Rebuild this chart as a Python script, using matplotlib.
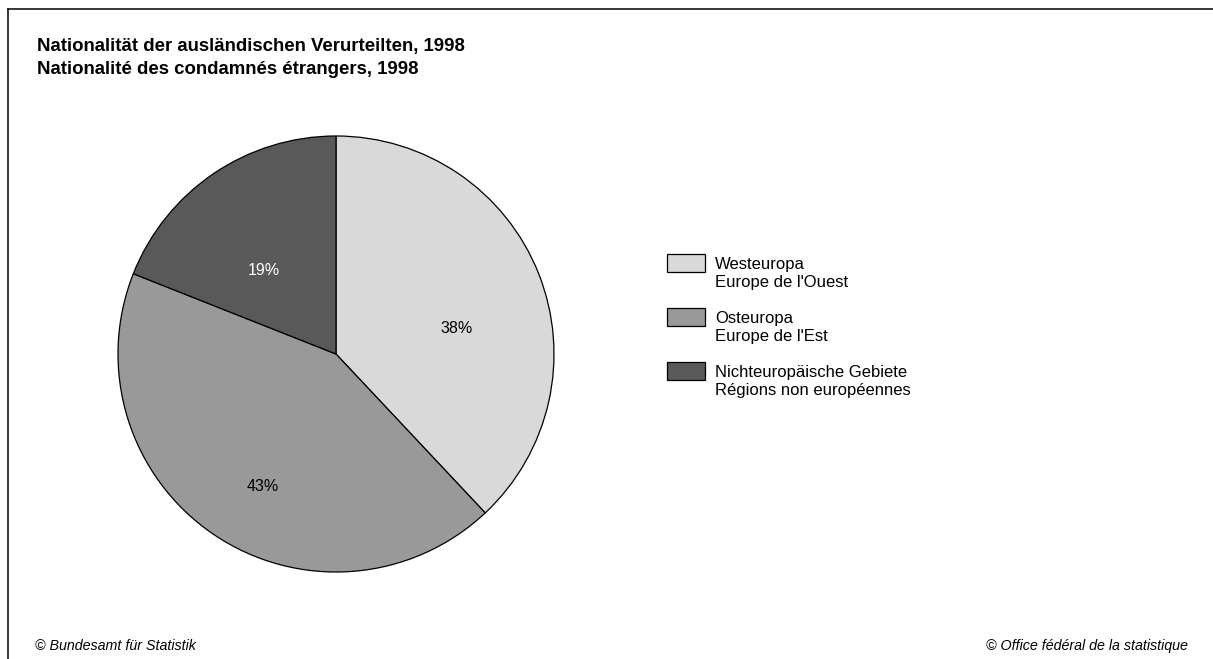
import numpy as np
import matplotlib
matplotlib.use("Agg")
import matplotlib.pyplot as plt
from matplotlib.patches import Rectangle
from matplotlib.lines import Line2D

plt.rcParams['font.family'] = ['Liberation Sans', 'DejaVu Sans']

# data
categories_de = ["Westeuropa", "Osteuropa", "Nichteuropäische Gebiete"]
categories_fr = ["Europe de l'Ouest", "Europe de l'Est", "Régions non européennes"]
shares = [38, 43, 19]
colors = ["#d9d9d9", "#999999", "#595959"]
label_colors = ["black", "black", "white"]

W, H = 1213, 659
fig = plt.figure(figsize=(W / 100, H / 100), dpi=100)

def fx(x):
    return x / W

def fy(y):
    return 1 - y / H

# partial frame (top and left)
fig.add_artist(Line2D([fx(8), 1.0], [fy(9), fy(9)], color="black", lw=1.1, transform=fig.transFigure))
fig.add_artist(Line2D([fx(8), fx(8)], [fy(9), 0.0], color="black", lw=1.1, transform=fig.transFigure))

# title
fig.text(fx(37), fy(46), "Nationalität der ausländischen Verurteilten, 1998",
         fontsize=13.4, fontweight="bold", va="center", ha="left")
fig.text(fx(37), fy(69), "Nationalité des condamnés étrangers, 1998",
         fontsize=13.4, fontweight="bold", va="center", ha="left")

# pie
cx, cy, r = 336, 354, 218
ax = fig.add_axes([fx(cx - r), fy(cy + r), 2 * r / W, 2 * r / H])
wedges, _ = ax.pie(shares, colors=colors, startangle=90, counterclock=False,
                   wedgeprops=dict(edgecolor="black", linewidth=0.9))
ax.set_xlim(-1, 1)
ax.set_ylim(-1, 1)
ax.set_aspect("equal")
ax.axis("off")

# label placement tweaks: (angle offset from wedge middle, radius fraction)
label_pos = [(-9.9, 0.567), (5.2, 0.693), (6.4, 0.507)]
for w, s, c, (da, rr) in zip(wedges, shares, label_colors, label_pos):
    ang = np.deg2rad((w.theta1 + w.theta2) / 2 + da)
    ax.text(rr * np.cos(ang), rr * np.sin(ang), f"{s}%", color=c,
            fontsize=11.5, ha="center", va="center")

# legend
for i, (de, fr, col) in enumerate(zip(categories_de, categories_fr, colors)):
    top = 254 + i * 54
    fig.patches.append(Rectangle((fx(667), fy(top + 18)), 38 / W, 18 / H,
                                 facecolor=col, edgecolor="black", lw=0.9,
                                 transform=fig.transFigure, figure=fig))
    fig.text(fx(715), fy(top + 10), de, fontsize=12, va="center", ha="left")
    fig.text(fx(715), fy(top + 29), fr, fontsize=12, va="center", ha="left")

# footer
fig.text(fx(35), fy(646), "© Bundesamt für Statistik", fontsize=10.3,
         style="italic", va="center", ha="left")
fig.text(fx(1188), fy(646), "© Office fédéral de la statistique", fontsize=10.3,
         style="italic", va="center", ha="right")

fig.savefig("out.png", dpi=100)
